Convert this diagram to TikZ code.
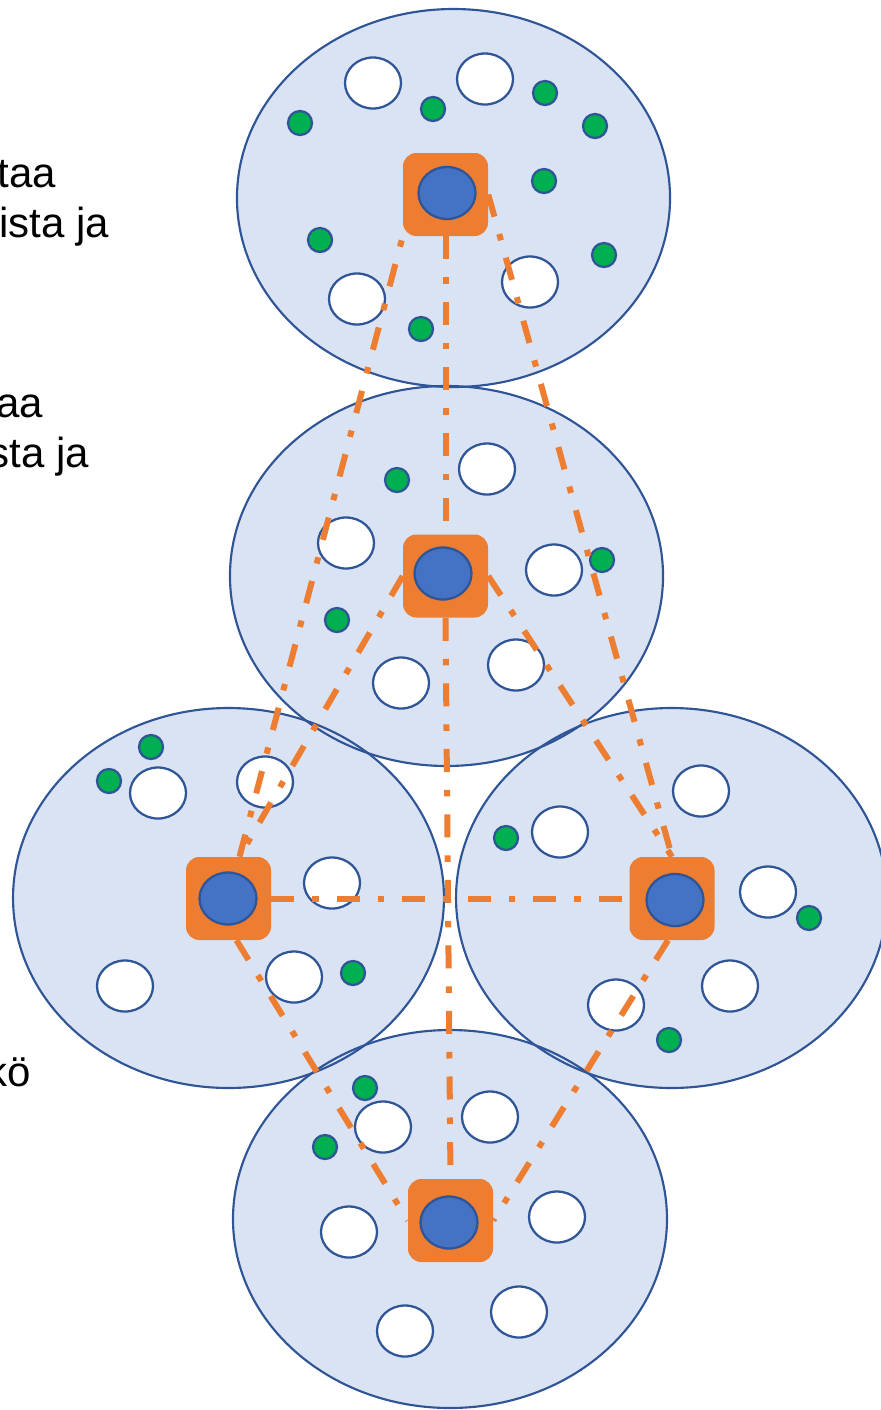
\documentclass[tikz,border=0pt]{standalone}
\usepackage{fontspec}
\setmainfont{Liberation Sans}
\usetikzlibrary{shapes.geometric}
\definecolor{bfill}{HTML}{DAE3F3}
\definecolor{bline}{HTML}{2F5597}
\definecolor{org}{HTML}{ED7D31}
\definecolor{blu}{HTML}{4472C4}
\definecolor{grn}{HTML}{00B050}
\tikzset{
  cellfill/.style={fill=bfill},
  cellline/.style={draw=bline, line width=1.6pt},
  wc/.style={ellipse, draw=bline, fill=white, line width=1.7pt, minimum width=42pt, minimum height=38.25pt, inner sep=0pt},
  gc/.style={circle, draw=bline, fill=grn, line width=1.7pt, minimum size=18pt, inner sep=0pt},
  sq/.style={rectangle, fill=org, rounded corners=10pt, minimum width=63.75pt, minimum height=62.25pt, inner sep=0pt},
  bc/.style={ellipse, draw=bline, fill=blu, line width=1.7pt, minimum width=42.75pt, minimum height=39pt, inner sep=0pt},
  link/.style={draw=org, line width=4.5pt, dash pattern=on 17.25pt off 13.5pt on 4.9pt off 13.5pt},
  lbl/.style={anchor=base east, inner sep=0pt, font=\fontsize{31.5}{38}\selectfont}
}
\begin{document}
\begin{tikzpicture}[x=0.75pt,y=-0.75pt]
\useasboundingbox (0,0) rectangle (881,1410);
% big cells
\coordinate (c1) at (453.5,198);
\coordinate (c2) at (446.5,576);
\coordinate (c3) at (228.5,898);
\coordinate (c4) at (671.5,898);
\coordinate (c5) at (450,1219);
\fill[cellfill] (c1) ellipse [x radius=162.4pt, y radius=141.75pt];
\fill[cellfill] (c2) ellipse [x radius=162.4pt, y radius=142.5pt];
\fill[cellfill] (c3) ellipse [x radius=161.6pt, y radius=142.5pt];
\fill[cellfill] (c4) ellipse [x radius=161.6pt, y radius=142.5pt];
\fill[cellfill] (c5) ellipse [x radius=162.75pt, y radius=141.75pt];
\draw[cellline] (c1) ellipse [x radius=162.4pt, y radius=141.75pt];
\draw[cellline] (c2) ellipse [x radius=162.4pt, y radius=142.5pt];
\draw[cellline] (c3) ellipse [x radius=161.6pt, y radius=142.5pt];
\draw[cellline] (c4) ellipse [x radius=161.6pt, y radius=142.5pt];
\draw[cellline] (c5) ellipse [x radius=162.75pt, y radius=141.75pt];
% top cell
\node[wc] (w11) at (373,83) {};
\node[wc] (w12) at (485,79) {};
\node[wc] (w13) at (357,299) {};
\node[wc] (w14) at (530,282) {};
\node[gc] (g11) at (300,123) {};
\node[gc] (g12) at (433,109) {};
\node[gc] (g13) at (545,93) {};
\node[gc] (g14) at (595,126) {};
\node[gc] (g15) at (544,181) {};
\node[gc] (g16) at (320,240) {};
\node[gc] (g17) at (604,255) {};
\node[gc] (g18) at (421,329) {};
% middle cell
\node[wc] (w21) at (487,469) {};
\node[wc] (w22) at (346,543) {};
\node[wc] (w23) at (554,570) {};
\node[wc] (w24) at (401,683) {};
\node[wc] (w25) at (516,665) {};
\node[gc] (g21) at (397,480) {};
\node[gc] (g22) at (602,560) {};
\node[gc] (g23) at (337,620) {};
% left cell
\node[gc] (g31) at (151,747) {};
\node[gc] (g32) at (109,781) {};
\node[wc] (w31) at (158,793) {};
\node[wc] (w32) at (265,782) {};
\node[wc] (w33) at (332,883) {};
\node[wc] (w34) at (125,986) {};
\node[wc] (w35) at (294,977) {};
\node[gc] (g33) at (353,973) {};
% right cell
\node[gc] (g41) at (506,838) {};
\node[wc] (w41) at (560,832) {};
\node[wc] (w42) at (701,791) {};
\node[wc] (w43) at (768,892) {};
\node[gc] (g42) at (809,918) {};
\node[wc] (w44) at (730,986) {};
\node[wc] (w45) at (616,1005) {};
\node[gc] (g43) at (669,1040) {};
% bottom cell
\node[gc] (g51) at (365,1088) {};
\node[gc] (g52) at (325,1147) {};
\node[wc] (w51) at (383,1127) {};
\node[wc] (w52) at (490,1117) {};
\node[wc] (w53) at (349,1232) {};
\node[wc] (w54) at (557,1217) {};
\node[wc] (w55) at (405,1331) {};
\node[wc] (w56) at (519,1312) {};
% base stations
\node[sq] (T) at (445.5,194.5) {};
\node[sq] (M) at (445.5,576) {};
\node[sq] (L) at (228.5,898.5) {};
\node[sq] (R) at (672,898.5) {};
\node[sq] (B) at (450.5,1220.5) {};
\node[bc] (bT) at (447,193) {};
\node[bc] (bM) at (443,573.5) {};
\node[bc] (bL) at (228,898.5) {};
\node[bc] (bR) at (675,900) {};
\node[bc] (bB) at (449,1222.5) {};
% links
\draw[link] (T.south) -- (M.north);
\draw[link] (M.south) -- (B.north);
\draw[link] ([xshift=8.25pt]L.north) -- (T.south west);
\draw[link] (T.east) -- (R.north);
\draw[link] (M.west) -- ([xshift=8.25pt]L.north);
\draw[link] (M.east) -- (R.north);
\draw[link] (L.east) -- (R.west);
\draw[link] ([xshift=6pt]L.south) -- (B.west);
\draw[link] ([xshift=-3pt]R.south) -- (B.east);
% clipped labels
\node[lbl] (t1) at (56,187) {taa};
\node[lbl] (t2) at (109,237) {ista ja};
\node[lbl] (t3) at (43,417) {aa};
\node[lbl] (t4) at (89,467) {sta ja};
\node[lbl] (t5) at (31,1086) {kö};
\end{tikzpicture}
\end{document}
